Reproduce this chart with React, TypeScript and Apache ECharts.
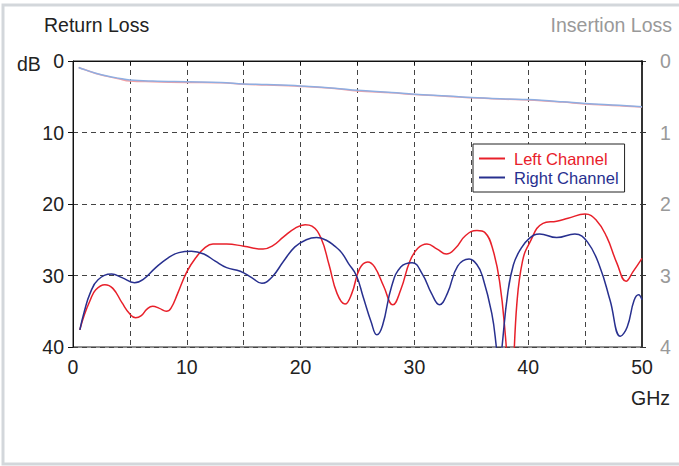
import React, { useEffect, useRef } from "react";
import * as echarts from "echarts";

const xTicks = [0, 10, 20, 30, 40, 50];
const rlTicks = [0, 10, 20, 30, 40];
const ilTicks = [0, 1, 2, 3, 4];

// Return loss (dB), [GHz, dB]
const leftChannel: [number, number][] = [
  [0.6, 37.6], [1.0, 35.5], [1.5, 33.5], [2.0, 32.0], [2.8, 31.3], [3.5, 31.8], [4.3, 33.8],
  [5.0, 35.4], [5.5, 35.9], [6.0, 35.6], [6.5, 34.7], [7.0, 34.3], [7.6, 34.6], [8.2, 35.0],
  [8.6, 34.6], [9.2, 32.5], [10.0, 29.5], [10.8, 27.5], [11.6, 26.1], [12.3, 25.6], [13.5, 25.6],
  [15.0, 25.9], [16.7, 26.3], [17.5, 25.9], [18.5, 24.6], [19.5, 23.4], [20.4, 22.9], [21.0, 23.1],
  [21.8, 24.8], [22.5, 28.5], [23.2, 32.5], [23.9, 34.0], [24.5, 32.5], [25.2, 29.0], [25.9, 28.1],
  [26.5, 28.8], [27.3, 31.5], [28.1, 34.1], [28.8, 32.0], [29.6, 28.0], [30.3, 26.2], [31.1, 25.6],
  [32.0, 26.3], [32.8, 27.0], [33.6, 26.2], [34.5, 24.4], [35.5, 23.7], [36.2, 24.0], [36.9, 26.4],
  [37.5, 31.0], [38.0, 38.5], [38.45, 48.0], [39.0, 34.0], [39.5, 28.0], [40.1, 25.5], [41.3, 22.7],
  [42.5, 22.4], [43.5, 22.0], [45.0, 21.4], [46.0, 22.3], [46.9, 24.6], [47.8, 28.3], [48.6, 30.8],
  [49.2, 29.5], [50.0, 27.6],
];

const rightChannel: [number, number][] = [
  [0.6, 37.6], [1.0, 35.0], [1.5, 32.5], [2.2, 30.6], [3.4, 29.8], [4.3, 30.3], [5.4, 31.0],
  [6.2, 30.5], [7.2, 29.0], [8.3, 27.6], [9.3, 26.8], [10.4, 26.6], [11.5, 27.0], [12.5, 28.0],
  [13.5, 28.9], [14.7, 29.4], [15.7, 30.3], [16.6, 31.1], [17.5, 30.2], [18.5, 28.0], [19.5, 26.0],
  [20.5, 25.0], [21.4, 24.7], [22.3, 25.1], [23.0, 25.9], [23.6, 26.8], [24.2, 28.3], [24.9, 30.0],
  [25.5, 33.0], [26.2, 36.5], [26.7, 38.3], [27.2, 37.0], [28.0, 31.5], [28.8, 28.8], [29.8, 28.2],
  [30.7, 29.8], [31.5, 32.5], [32.2, 34.1], [32.9, 32.5], [33.8, 28.7], [34.8, 27.7], [35.5, 28.5],
  [36.0, 30.2], [36.8, 35.3], [37.2, 40.0], [37.45, 44.0], [37.7, 40.0], [38.2, 32.5], [38.7, 28.5],
  [39.3, 26.4], [40.1, 24.8], [41.0, 24.2], [42.5, 24.7], [44.1, 24.2], [45.2, 25.3], [46.3, 28.8],
  [47.2, 33.5], [48.1, 38.5], [48.7, 37.2], [49.3, 33.5], [49.7, 32.7], [50.0, 33.4],
];

// Insertion loss (dB), [GHz, dB]
const ilRight: [number, number][] = [
  [0.5, 0.09], [1, 0.12], [2, 0.17], [3, 0.21], [4, 0.24], [5, 0.265], [7, 0.28], [10, 0.29],
  [13, 0.3], [15, 0.32], [17, 0.33], [20, 0.35], [23, 0.38], [25, 0.41], [28, 0.44], [30, 0.465],
  [33, 0.49], [35, 0.51], [38, 0.53], [40, 0.54], [43, 0.57], [45, 0.595], [48, 0.62], [50, 0.64],
];
const ilLeft: [number, number][] = [
  [0.5, 0.09], [1, 0.12], [2, 0.175], [3, 0.215], [4, 0.25], [5, 0.28], [7, 0.29], [10, 0.3],
  [13, 0.305], [15, 0.325], [17, 0.335], [20, 0.355], [23, 0.385], [25, 0.42], [28, 0.445], [30, 0.47],
  [33, 0.495], [35, 0.515], [38, 0.535], [40, 0.545], [43, 0.575], [45, 0.6], [48, 0.625], [50, 0.645],
];

const FONT = "'Liberation Sans', Arial, sans-serif";
const RED = "#e8202a";
const NAVY = "#28308f";
const FS = 19.5;

export default function App() {
  const ref = useRef<HTMLDivElement>(null);
  useEffect(() => {
    if (!ref.current) return;
    const chart = echarts.init(ref.current, undefined, { renderer: "svg" });
    chart.setOption({
      animation: false,
      backgroundColor: "#fff",
      textStyle: { fontFamily: FONT },
      grid: { left: 73, right: 37, top: 61, bottom: 119, show: true, borderColor: "#222", borderWidth: 1, backgroundColor: "transparent" },
      graphic: [
        { type: "rect", shape: { x: 3, y: 5, width: 700, height: 459 }, style: { fill: "none", stroke: "#d3d7db", lineWidth: 3 }, silent: true },
        { type: "text", x: 44, y: 25, style: { text: "Return Loss", font: `${FS}px ${FONT}`, fill: "#222", verticalAlign: "middle", align: "left" } },
        { type: "text", x: 672, y: 25, style: { text: "Insertion Loss", font: `${FS}px ${FONT}`, fill: "#999", verticalAlign: "middle", align: "right" } },
        { type: "text", x: 17, y: 64, style: { text: "dB", font: `${FS}px ${FONT}`, fill: "#222", verticalAlign: "middle", align: "left" } },
        { type: "text", x: 631, y: 398, style: { text: "GHz", font: `${FS}px ${FONT}`, fill: "#222", verticalAlign: "middle", align: "left" } },
      ],
      legend: {
        data: [
          { name: "Left Channel", textStyle: { color: RED } },
          { name: "Right Channel", textStyle: { color: NAVY } },
        ],
        orient: "vertical",
        left: 473,
        top: 144,
        padding: [6, 6, 6, 6],
        itemGap: 2,
        itemWidth: 26,
        itemHeight: 2,
        icon: "rect",
        borderColor: "#222",
        borderWidth: 1,
        backgroundColor: "#fff",
        textStyle: { fontSize: 16.5, fontFamily: FONT, padding: [0, 0, 0, 4] },
      },
      xAxis: {
        type: "value",
        min: 0,
        max: 50,
        interval: 5,
        axisLine: { show: true, lineStyle: { color: "#111", width: 1 } },
        axisTick: { show: true, length: 4, lineStyle: { color: "#111" } },
        axisLabel: {
          color: "#222",
          fontSize: FS,
          fontFamily: FONT,
          margin: 10,
          formatter: (v: number) => (xTicks.includes(v) ? String(v) : ""),
        },
        splitLine: { show: true, lineStyle: { color: "#444", type: [5, 4], width: 1 } },
      },
      yAxis: [
        {
          type: "value",
          inverse: true,
          min: 0,
          max: 40,
          interval: 10,
          position: "left",
          axisLine: { show: true, lineStyle: { color: "#111" } },
          axisTick: { show: true, length: 5, lineStyle: { color: "#111" } },
          axisLabel: {
            color: "#222",
            fontSize: FS,
            fontFamily: FONT,
            margin: 9,
            padding: [4, 0, 0, 0],
            formatter: (v: number) => (rlTicks.includes(v) ? String(v) : ""),
          },
          splitLine: { show: true, lineStyle: { color: "#444", type: [5, 4], width: 1 } },
        },
        {
          type: "value",
          inverse: true,
          min: 0,
          max: 4,
          interval: 1,
          position: "right",
          axisLine: { show: true, lineStyle: { color: "#333", width: 2 } },
          axisTick: { show: true, length: 4, lineStyle: { color: "#333" } },
          axisLabel: {
            color: "#999",
            fontSize: FS,
            fontFamily: FONT,
            margin: 18,
            formatter: (v: number) => (ilTicks.includes(v) ? String(v) : ""),
          },
          splitLine: { show: false },
        },
      ],
      series: [
        { name: "IL Left", type: "line", yAxisIndex: 1, data: ilLeft, smooth: 0.4, showSymbol: false, lineStyle: { color: "#f3a0a4", width: 1.5 }, itemStyle: { color: "#f3a0a4" } },
        { name: "IL Right", type: "line", yAxisIndex: 1, data: ilRight, smooth: 0.4, showSymbol: false, lineStyle: { color: "#8eaee2", width: 1.5 }, itemStyle: { color: "#8eaee2" } },
        { name: "Left Channel", type: "line", yAxisIndex: 0, data: leftChannel, smooth: 0.45, showSymbol: false, clip: true, lineStyle: { color: RED, width: 1.5 }, itemStyle: { color: RED } },
        { name: "Right Channel", type: "line", yAxisIndex: 0, data: rightChannel, smooth: 0.45, showSymbol: false, clip: true, lineStyle: { color: NAVY, width: 1.5 }, itemStyle: { color: NAVY } },
      ],
    });
    return () => chart.dispose();
  }, []);
  return <div ref={ref} style={{ position: "fixed", left: 0, top: 0, width: 679, height: 466 }} />;
}
